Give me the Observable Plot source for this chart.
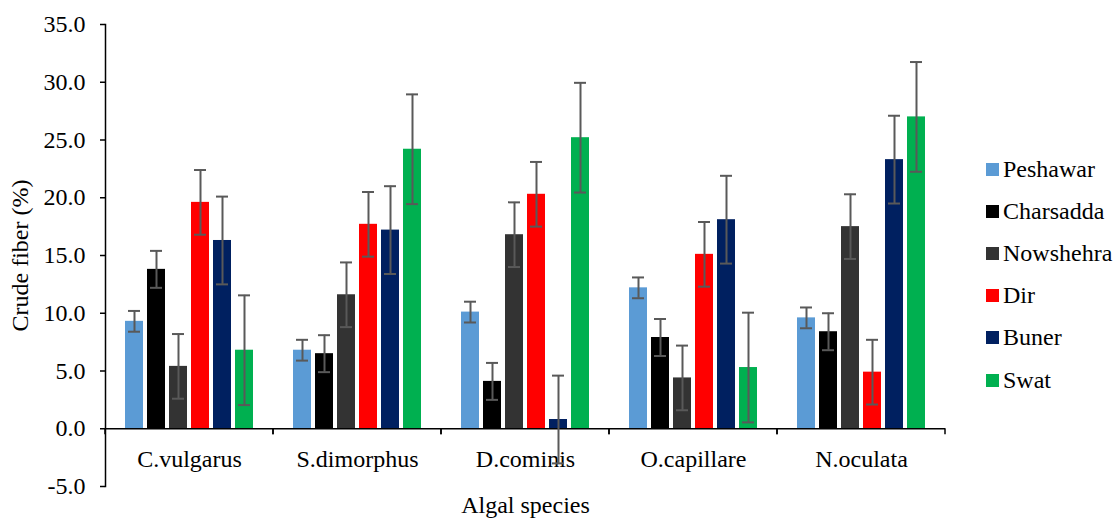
<!DOCTYPE html>
<html>
<head>
<meta charset="utf-8">
<script src="https://cdn.jsdelivr.net/npm/d3@7"></script>
<script src="https://cdn.jsdelivr.net/npm/@observablehq/plot@0.6"></script>
<style>
  html, body { margin: 0; padding: 0; background: #ffffff; }
  #wrap { position: relative; width: 1114px; height: 518px; overflow: hidden; background: #ffffff; }
  #legend { position: absolute; left: 986px; top: 148px; font-family: "Liberation Serif", Tinos, "Times New Roman", Times, "DejaVu Serif", serif; font-size: 24px; color: #000; }
  .item { height: 42.2px; display: flex; align-items: center; white-space: nowrap; }
  .sw { width: 13px; height: 13px; margin-right: 4px; flex: none; }
  svg text { font-family: "Liberation Serif", Tinos, "Times New Roman", Times, "DejaVu Serif", serif; }
</style>
</head>
<body>
<div id="wrap"><div id="chart"></div><div id="legend"></div></div>
<script>
const species = ["C.vulgarus", "S.dimorphus", "D.cominis", "O.capillare", "N.oculata"];
const series = ["Peshawar", "Charsadda", "Nowshehra", "Dir", "Buner", "Swat"];
const colors = ["#5B9BD5", "#000000", "#333333", "#FF0000", "#002060", "#00B050"];

// Crude fiber (%) per site, in species order
const peshawar  = [9.3, 6.8, 10.1, 12.2, 9.6];
const charsadda = [13.8, 6.5, 4.1, 7.9, 8.4];
const nowshehra = [5.4, 11.6, 16.8, 4.4, 17.5];
const dir       = [19.6, 17.7, 20.3, 15.1, 4.9];
const buner     = [16.3, 17.2, 0.8, 18.1, 23.3];
const swat      = [6.8, 24.2, 25.2, 5.3, 27.0];

// error bar half-widths
const errPeshawar  = [0.9, 0.9, 0.9, 0.9, 0.9];
const errCharsadda = [1.6, 1.6, 1.6, 1.6, 1.6];
const errNowshehra = [2.8, 2.8, 2.8, 2.8, 2.8];
const errDir       = [2.8, 2.8, 2.8, 2.8, 2.8];
const errBuner     = [3.8, 3.8, 3.8, 3.8, 3.8];
const errSwat      = [4.75, 4.75, 4.75, 4.75, 4.75];

const yTicks = [-5, 0, 5, 10, 15, 20, 25, 30, 35];

const values = [peshawar, charsadda, nowshehra, dir, buner, swat];
const errors = [errPeshawar, errCharsadda, errNowshehra, errDir, errBuner, errSwat];

const rows = [];
species.forEach((sp, i) => {
  series.forEach((s, j) => {
    rows.push({species: sp, series: s, value: values[j][i], err: errors[j][i]});
  });
});

const font = '"Liberation Serif", Tinos, "Times New Roman", Times, "DejaVu Serif", serif';

// boundary ticks of the category axis, drawn in each facet from its own dimensions
function boundaryTicks(index, scales, channels, dimensions) {
  const g = d3.create("svg:g");
  const y0 = scales.y(0);
  const left = dimensions.marginLeft;
  const right = dimensions.width - dimensions.marginRight;
  for (const x of [left, right]) {
    g.append("line")
      .attr("x1", x).attr("x2", x)
      .attr("y1", y0).attr("y2", y0 + 6)
      .attr("stroke", "#000").attr("stroke-width", 1.5);
  }
  return g.node();
}

const chart = Plot.plot({
  width: 1114,
  height: 518,
  marginLeft: 105,
  marginRight: 169,
  marginTop: 24,
  marginBottom: 32,
  style: {fontFamily: font, fontSize: "24px", color: "#000", background: "#fff"},
  fx: {domain: species, padding: 0},
  x: {domain: series, paddingInner: 0.17, paddingOuter: 0.85, axis: null},
  y: {domain: [-5, 35]},
  color: {domain: series, range: colors},
  marks: [
    Plot.frame({anchor: "left", facet: "super", stroke: "#000", strokeWidth: 1.5}),
    Plot.axisY({
      ticks: yTicks, tickFormat: d => d.toFixed(1), tickSize: 5, tickPadding: 15,
      fontSize: 24, stroke: "#000", strokeWidth: 1.5,
      label: "Crude fiber (%)", labelAnchor: "center", labelArrow: "none", labelOffset: 95
    }),
    Plot.axisFx({
      anchor: "bottom", tickSize: 0, tickPadding: -37, fontSize: 24,
      label: "Algal species", labelAnchor: "center", labelArrow: "none", labelOffset: 26
    }),
    Plot.barY(rows, {fx: "species", x: "series", y: "value", fill: "series"}),
    Plot.ruleY([0], {stroke: "#000", strokeWidth: 1.5}),
    boundaryTicks,
    Plot.ruleX(rows, {fx: "species", x: "series", y1: d => d.value - d.err, y2: d => d.value + d.err, stroke: "#595959", strokeWidth: 2}),
    Plot.tickY(rows, {fx: "species", x: "series", y: d => d.value + d.err, stroke: "#595959", strokeWidth: 2, insetLeft: 3, insetRight: 3}),
    Plot.tickY(rows, {fx: "species", x: "series", y: d => d.value - d.err, stroke: "#595959", strokeWidth: 2, insetLeft: 3, insetRight: 3})
  ]
});
document.getElementById("chart").appendChild(chart);

const legend = document.getElementById("legend");
series.forEach((s, j) => {
  const item = document.createElement("div");
  item.className = "item";
  const sw = document.createElement("span");
  sw.className = "sw";
  sw.style.background = colors[j];
  const label = document.createElement("span");
  label.textContent = s;
  item.appendChild(sw);
  item.appendChild(label);
  legend.appendChild(item);
});
</script>
</body>
</html>
